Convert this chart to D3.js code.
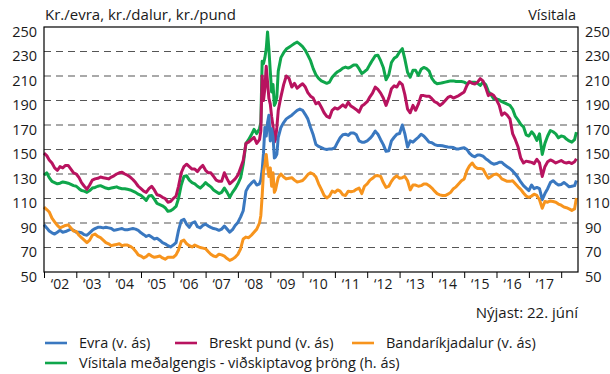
<!DOCTYPE html>
<html>
<head>
<meta charset="utf-8">
<script src="https://cdn.jsdelivr.net/npm/d3@7"></script>
<style>
  html, body { margin: 0; padding: 0; background: #fff; }
  svg { display: block; }
  text { font-family: "Open Sans", "Noto Sans", sans-serif; fill: #1a1a1a; }
</style>
</head>
<body>
<svg id="chart" width="610" height="374"></svg>
<script>
// Dates: monthly to Aug 2008, twice a month through the 2008-09 turmoil, monthly again from Apr 2009, last value 22 June 2018
const datesEarly = d3.timeMonth.range(new Date(2002, 0, 1), new Date(2008, 8, 1));
const datesCrisis = d3.timeMonth.range(new Date(2008, 8, 1), new Date(2009, 3, 1))
  .flatMap(d => [d, d3.timeDay.offset(d, 15)]);
const datesLate = d3.timeMonth.range(new Date(2009, 3, 1), new Date(2018, 6, 1));
const dates = [...datesEarly, ...datesCrisis, ...datesLate, new Date(2018, 5, 22)];

// Kr./evra
const evra = [
  88.5, 86, 83.5, 82, 81, 82.5, 84, 82.5, 83, 84, 85, 84,
  82.5, 82.5, 82, 80.5, 80, 82, 84, 85.5, 86.5, 86.5, 86, 86.5,
  86, 85.5, 84, 84.5, 85, 85.5, 84.5, 84.5, 85, 85.5, 85, 84,
  82, 80.5, 79, 80, 78.5, 77, 77.5, 76, 74, 73, 71.5, 70.5,
  72, 74, 84, 92, 93, 89, 86.5, 90, 91, 87, 86, 88,
  89, 87.5, 86.5, 85.5, 85, 84, 85, 87.5, 85, 82.5, 84.5, 88,
  90.5, 95, 100, 116, 120, 122.5, 124.5, 121,
  122, 125, 133, 147, 168, 161, 172, 178, 157, 167, 160, 143, 144, 146,
  160, 168, 172, 175, 176.5, 178, 180, 182, 183,
  182, 178.5, 175, 168, 162, 154, 152.5, 151.5, 150.5, 150, 150.5, 150.5,
  151.5, 156, 159.5, 162, 162.5, 161.5, 163.5, 163.5, 162, 157, 156, 156,
  157, 159, 161.5, 165, 162.5, 158, 154, 148.5, 149, 157, 160, 162.5,
  163, 170, 163, 152, 157, 156, 158, 160, 162.5, 161, 158.5, 156,
  155.5, 154, 153.3, 153.3, 153, 152.5, 152, 151.9, 151.6, 150.5, 150.5, 151,
  151.5, 150, 147, 145, 144, 145.5, 145.5, 144.5, 142.5, 141, 139, 138,
  138.5, 139.6, 139.6, 137.5, 136, 134.5, 132.5, 130, 127, 123.5, 120.5, 118.5,
  116.5, 121, 118, 119, 118, 109, 114, 118, 123, 124.5, 122.5, 121,
  121.5, 123, 121.5, 119.5, 120, 120.5,
  124.7
];

// Kr./pund
const pund = [
  147, 145, 141.5, 139, 135, 133, 136, 135, 137, 137, 134, 131,
  130, 127, 123, 120, 117.5, 121, 125, 126, 126.5, 127.5, 127, 126.5,
  126, 127.5, 128.5, 130, 131, 131.5, 130, 129, 127.5, 125.5, 123, 120,
  118, 116, 115, 118, 120, 117, 113, 112.5, 111, 110, 107, 107.5,
  110, 112, 120, 131, 136, 138, 136, 134, 134, 132, 135, 137,
  133, 131, 131, 128, 125, 124, 124, 131, 126, 122, 124, 126,
  129, 135, 141, 155, 156, 158, 160, 155,
  158, 165, 210, 190, 200, 218, 205, 192, 187, 177, 169, 156, 158, 168,
  182, 193, 203, 210, 208, 201, 204, 200, 202,
  203.7, 201, 196.5, 193.5, 192, 187.3, 188.5, 184.5, 180, 177, 176, 182,
  184, 183, 184.5, 186.5, 184.5, 188.5, 185.5, 184, 182.5, 180.5, 185.5, 187,
  189, 193, 196, 201, 199, 196, 192, 186, 192, 199.6, 202, 201,
  205, 203, 195, 183, 180, 186, 182, 187, 194, 194, 193.5, 193.5,
  191.5, 189, 188, 186, 187.5, 190, 192.5, 193.5, 192, 193, 194, 195.5,
  197, 202.3, 205.5, 204, 203.5, 205, 207.8, 206, 200.5, 194, 195.5, 194,
  190.5, 186, 178, 180, 178, 175, 163, 158, 152, 143, 139, 140.5,
  140, 139.5, 138.5, 142, 139, 128, 136, 140, 141.5, 140.5, 139, 140,
  141, 139.5, 139, 139.6, 138.5, 140,
  142.4
];

// Kr./dalur
const dalur = [
  103, 101, 99, 94, 91, 88, 86, 87, 88, 88.5, 86, 83.5,
  83, 80, 78, 76, 74, 76, 80, 81, 79, 78, 76, 74,
  73, 71.5, 72, 72.5, 73, 71.5, 72, 72, 71, 69.5, 67, 64,
  63, 61.5, 62.5, 64.5, 63, 62, 62.5, 63, 61.5, 60.5, 62, 62,
  62, 64, 68, 75, 76, 73, 71.5, 70.5, 72, 71, 70, 69.5,
  69, 66.5, 64.5, 63, 62.5, 64.5, 64, 63, 61, 59.5, 60.5, 62,
  64.5, 69, 77, 78.5, 78, 80, 82.5, 85,
  90, 96, 112, 132, 138, 146, 136, 128, 135, 120, 131, 115, 117, 122,
  127, 130, 127.5, 126, 126.5, 127, 125, 123.5, 124,
  124.7, 127, 129.5, 131, 130, 127.5, 122, 117.5, 112.5, 110.5, 112, 116,
  115, 117, 116, 113, 112.5, 116, 115.5, 116, 117.5, 118.5, 114, 120,
  122, 125, 126.5, 128.5, 128.7, 128, 123, 119, 120, 124, 127, 128.5,
  126.5, 127, 128, 124.5, 117, 121, 121, 120, 120.5, 121.9, 121.9, 120.5,
  118.5, 116, 114, 113, 112.4, 112.4, 113.5, 115, 118, 119.5, 122, 124.5,
  126, 132.8, 136.5, 139, 136, 134.5, 134.5, 134, 130, 126.5, 128, 129.5,
  130, 128.7, 126, 125, 124, 124, 124.5, 122, 119.5, 117.5, 114.5, 112,
  111, 112, 113.5, 112.5, 109, 102, 107.5, 107, 108, 107.5, 107, 105.5,
  104.5, 103, 102.5, 101.5, 100.3, 101.5,
  110.5
];

// Vísitala meðalgengis - viðskiptavog þröng
const visitala = [
  129, 131, 127, 124, 123, 122, 122.5, 123.5, 123, 122.5, 121.5, 120.5,
  120, 118, 116.5, 116, 115, 116.5, 118.5, 119, 120, 120.5, 119.5, 118.5,
  118, 118.5, 119, 119.5, 118.5, 118, 118, 117.5, 117, 116, 115, 113.5,
  112.5, 110.5, 108.5, 112, 112.5, 109.5, 106, 105, 104, 102.5, 99.5, 100,
  101.5, 103.5, 110, 121, 128, 128.5, 125, 123, 122, 120, 118.5, 120.5,
  123, 121, 119.5, 117, 115.5, 114, 115, 118.5, 115, 111, 115, 118,
  122, 127, 138, 155, 158, 162, 166.5, 163,
  167, 172, 222, 220, 225, 232, 246, 232, 214, 197, 203, 186, 188, 193,
  214, 225, 229, 232, 233.5, 235, 236.5, 237.7, 236,
  234, 231, 227, 222.5, 216, 211, 208, 206, 205, 204, 205, 209,
  211.5, 213.5, 214.6, 216.5, 217.3, 216.5, 217.5, 219, 219, 216, 212, 213.5,
  215.5, 219.5, 223, 226.5, 227, 222.5, 217, 207, 211, 221, 224.5, 226,
  229.6, 232.3, 224, 213, 209, 214.6, 214.6, 210.5, 215.5, 217, 216, 214,
  208, 205, 203.7, 204, 204.5, 205, 205.5, 206, 206, 205.5, 205.5, 205.5,
  205, 203.7, 205, 205, 205, 204, 202.3, 205, 203, 197.5, 194.5, 191.4,
  191.4, 190.5, 189, 188, 187, 186, 183, 177, 174, 170.5, 168.5, 162,
  161, 164.5, 162, 157.5, 162.8, 146, 155, 161, 165.5, 164.5, 162.8, 159.5,
  161, 160.5, 158.5, 157, 156, 158,
  164.2
];

const yTicks = [50, 70, 90, 110, 130, 150, 170, 190, 210, 230, 250];
const yearLabels = ["‘02", "‘03", "‘04", "‘05", "‘06", "‘07", "‘08", "‘09",
                    "‘10", "‘11", "‘12", "‘13", "‘14", "‘15", "‘16", "‘17"];

const series = [
  { name: "Vísitala meðalgengis - viðskiptavog þröng (h. ás)", values: visitala, color: "#0fa64b", right: true },
  { name: "Breskt pund (v. ás)", values: pund, color: "#b8135f" },
  { name: "Evra (v. ás)", values: evra, color: "#3a78c0" },
  { name: "Bandaríkjadalur (v. ás)", values: dalur, color: "#f7941d" }
];

const svg = d3.select("#chart");
const m = { left: 44, right: 578, top: 27, bottom: 272 };

const x = d3.scaleTime()
  .domain([new Date(2002, 0, 1), new Date(2018, 6, 10)])
  .range([m.left, m.right]);
const yL = d3.scaleLinear().domain([50, 250]).range([m.bottom, m.top]);
const yR = d3.scaleLinear().domain([50, 250]).range([m.bottom, m.top]);

// Dashed grid lines
svg.append("g")
  .selectAll("line")
  .data(yTicks.slice(1, -1))
  .join("line")
  .attr("x1", m.left).attr("x2", m.right)
  .attr("y1", d => yL(d)).attr("y2", d => yL(d))
  .attr("stroke", "#555")
  .attr("stroke-width", 1.2)
  .attr("stroke-dasharray", "7,5");

// Left and right value axes
function styleAxis(g) {
  g.select(".domain").remove();
  g.selectAll("text")
    .attr("font-size", 14.5)
    .attr("font-family", "\"Open Sans\", sans-serif")
    .attr("fill", "#1a1a1a")
    .attr("dy", "0.62em");
}
svg.append("g")
  .attr("transform", `translate(${m.left},0)`)
  .call(d3.axisLeft(yL).tickValues(yTicks).tickSize(0).tickPadding(7))
  .call(styleAxis);
svg.append("g")
  .attr("transform", `translate(${m.right},0)`)
  .call(d3.axisRight(yR).tickValues(yTicks).tickSize(0).tickPadding(7))
  .call(styleAxis);

// Bottom axis: ticks at year boundaries, labels centred on each year
const yearStarts = d3.timeYear.range(new Date(2002, 0, 1), new Date(2019, 0, 1));
const axB = svg.append("g")
  .attr("transform", `translate(0,${m.bottom})`)
  .call(d3.axisBottom(x).tickValues(yearStarts).tickSize(6).tickFormat(""));
axB.select(".domain").remove();
axB.selectAll("line").attr("stroke", "#000");

svg.append("g")
  .selectAll("text")
  .data(yearLabels)
  .join("text")
  .attr("x", (d, i) => x(new Date(2002 + i, 6, 1)))
  .attr("y", m.bottom + 17)
  .attr("text-anchor", "middle")
  .attr("font-size", 14)
  .text(d => d);

// Lines
const line = d3.line().x((d, i) => x(dates[i]));

svg.append("g")
  .selectAll("path")
  .data(series)
  .join("path")
  .attr("fill", "none")
  .attr("stroke", d => d.color)
  .attr("stroke-width", 3)
  .attr("stroke-linejoin", "round")
  .attr("d", d => line.y(v => (d.right ? yR(v) : yL(v)))(d.values));

// Frame
svg.append("rect")
  .attr("x", m.left).attr("y", m.top)
  .attr("width", m.right - m.left).attr("height", m.bottom - m.top)
  .attr("fill", "none").attr("stroke", "#000").attr("stroke-width", 1.2);

// Titles
svg.append("text").attr("x", m.left + 1).attr("y", 20)
  .attr("font-size", 15).text("Kr./evra, kr./dalur, kr./pund");
svg.append("text").attr("x", m.right - 2).attr("y", 20)
  .attr("text-anchor", "end").attr("font-size", 14.5).text("Vísitala");
svg.append("text").attr("x", m.right).attr("y", 318)
  .attr("text-anchor", "end").attr("font-size", 15).text("Nýjast: 22. júní");

// Legend
const legendItems = [
  { label: "Evra (v. ás)", color: "#3a78c0", x: 45, y: 343 },
  { label: "Breskt pund (v. ás)", color: "#b8135f", x: 175, y: 343 },
  { label: "Bandaríkjadalur (v. ás)", color: "#f7941d", x: 352, y: 343 },
  { label: "Vísitala meðalgengis - viðskiptavog þröng (h. ás)", color: "#0fa64b", x: 45, y: 363 }
];
const lg = svg.append("g").selectAll("g").data(legendItems).join("g")
  .attr("transform", d => `translate(${d.x},${d.y})`);
lg.append("line").attr("x1", 0).attr("x2", 22).attr("y1", 0).attr("y2", 0)
  .attr("stroke", d => d.color).attr("stroke-width", 2.6);
lg.append("text").attr("x", 34).attr("y", 5).attr("font-size", 14.5).text(d => d.label);
</script>
</body>
</html>
